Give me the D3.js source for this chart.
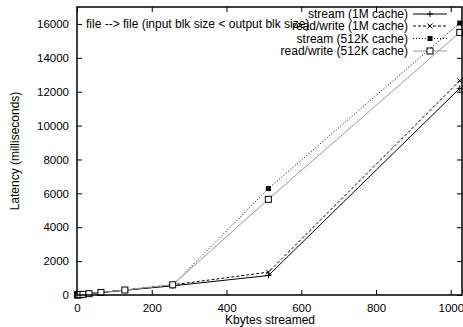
<!doctype html>
<html>
<head>
<meta charset="utf-8">
<title>Latency</title>
<script src="https://cdn.jsdelivr.net/npm/d3@7"></script>
<style>
  html, body { margin: 0; padding: 0; background: #fff; }
  svg { display: block; font-family: "Liberation Sans", Arial, sans-serif; }
</style>
</head>
<body>
<div id="chart"></div>
<script>
// data
const kbytes = [1, 2, 4, 8, 16, 32, 64, 128, 256, 512, 1024];
const stream1M = [6, 8, 12, 20, 35, 70, 140, 280, 540, 1150, 12200];
const readWrite1M = [7, 9, 14, 22, 40, 80, 155, 300, 600, 1350, 12650];
const stream512K = [6, 8, 12, 20, 36, 72, 145, 285, 580, 6280, 16050];
const readWrite512K = [7, 9, 13, 22, 38, 78, 150, 295, 600, 5650, 15500];
const xTicks = [0, 200, 400, 600, 800, 1000];
const yTicks = [0, 2000, 4000, 6000, 8000, 10000, 12000, 14000, 16000];
const seriesNames = ["stream (1M cache)", "read/write (1M cache)", "stream (512K cache)", "read/write (512K cache)"];

const series = [
  { name: seriesNames[0], values: stream1M, dash: null, color: "#000", mark: "plus" },
  { name: seriesNames[1], values: readWrite1M, dash: "3,2", color: "#000", mark: "cross" },
  { name: seriesNames[2], values: stream512K, dash: "1,2", color: "#000", mark: "fsquare" },
  { name: seriesNames[3], values: readWrite512K, dash: null, color: "#999", mark: "osquare" }
];

const W = 463, H = 327;
const margin = { top: 7, right: 1, bottom: 32, left: 77 };
const width = W - margin.left - margin.right;
const height = H - margin.top - margin.bottom;

const svg = d3.select("#chart").append("svg")
  .attr("width", W).attr("height", H);
const g = svg.append("g").attr("transform", `translate(${margin.left},${margin.top})`);

const x = d3.scaleLinear().domain([0, 1030]).range([0, width]);
const y = d3.scaleLinear().domain([0, 17000]).range([height, 0]);

// axes, gnuplot style: ticks pointing in, mirrored
const fs = "12px";
const fmt = d3.format("d");
g.append("g").attr("transform", `translate(0,${height})`)
  .call(d3.axisBottom(x).tickValues(xTicks).tickFormat(fmt).tickSizeInner(-5).tickSizeOuter(0).tickPadding(9))
  .call(a => a.select(".domain").remove());
g.append("g")
  .call(d3.axisTop(x).tickValues(xTicks).tickSizeInner(-5).tickSizeOuter(0).tickFormat(""))
  .call(a => a.select(".domain").remove());
g.append("g")
  .call(d3.axisLeft(y).tickValues(yTicks).tickFormat(fmt).tickSizeInner(-5).tickSizeOuter(0).tickPadding(8))
  .call(a => a.select(".domain").remove());
g.append("g").attr("transform", `translate(${width},0)`)
  .call(d3.axisRight(y).tickValues(yTicks).tickSizeInner(-5).tickSizeOuter(0).tickFormat(""))
  .call(a => a.select(".domain").remove());
g.selectAll(".tick text").attr("font-size", "11.5px").attr("font-family", "Liberation Sans, Arial, sans-serif").attr("fill", "#000");
g.selectAll(".tick line").attr("stroke", "#000");

// lines
const line = d3.line().x((d, i) => x(kbytes[i])).y(d => y(d));
series.forEach(s => {
  g.append("path").datum(s.values)
    .attr("fill", "none")
    .attr("stroke", s.color)
    .attr("stroke-width", 1)
    .attr("stroke-dasharray", s.dash)
    .attr("d", line);
});

function drawMark(sel, kind, cx, cy) {
  if (kind === "plus") {
    sel.append("path").attr("d", `M${cx - 3},${cy}H${cx + 3}M${cx},${cy - 3}V${cy + 3}`)
      .attr("stroke", "#000").attr("stroke-width", 1);
  } else if (kind === "cross") {
    sel.append("path").attr("d", `M${cx - 2.5},${cy - 2.5}L${cx + 2.5},${cy + 2.5}M${cx - 2.5},${cy + 2.5}L${cx + 2.5},${cy - 2.5}`)
      .attr("stroke", "#000").attr("stroke-width", 1);
  } else if (kind === "fsquare") {
    sel.append("rect").attr("x", cx - 2.5).attr("y", cy - 2.5).attr("width", 5).attr("height", 5)
      .attr("fill", "#000");
  } else {
    sel.append("rect").attr("x", cx - 3).attr("y", cy - 3).attr("width", 6).attr("height", 6)
      .attr("fill", "#fff").attr("stroke", "#000").attr("stroke-width", 1);
  }
}

series.forEach(s => {
  const mg = g.append("g");
  s.values.forEach((v, i) => drawMark(mg, s.mark, x(kbytes[i]), y(v)));
});

// frame
g.append("rect").attr("width", width).attr("height", height)
  .attr("fill", "none").attr("stroke", "#000").attr("stroke-width", 1.5);

// title inside plot
g.append("text").attr("x", 9).attr("y", 21)
  .attr("font-size", fs).text("file --> file (input blk size < output blk size)");

// legend
const legendRows = [14, 26, 38.5, 51];
series.forEach((s, i) => {
  const ly = legendRows[i] - margin.top;
  g.append("text").attr("x", 408 - margin.left).attr("y", ly).attr("dy", "0.35em")
    .attr("text-anchor", "end").attr("font-size", fs).text(s.name);
  g.append("line").attr("x1", 413 - margin.left).attr("x2", 447 - margin.left)
    .attr("y1", ly).attr("y2", ly)
    .attr("stroke", s.color).attr("stroke-width", 1).attr("stroke-dasharray", s.dash);
  drawMark(g, s.mark, 430 - margin.left, ly);
});

// axis titles
svg.append("text").attr("x", 270).attr("y", 324)
  .attr("text-anchor", "middle").attr("font-size", fs).text("Kbytes streamed");
svg.append("text").attr("transform", "translate(19,151) rotate(-90)")
  .attr("text-anchor", "middle").attr("font-size", fs).text("Latency (milliseconds)");
</script>
</body>
</html>
